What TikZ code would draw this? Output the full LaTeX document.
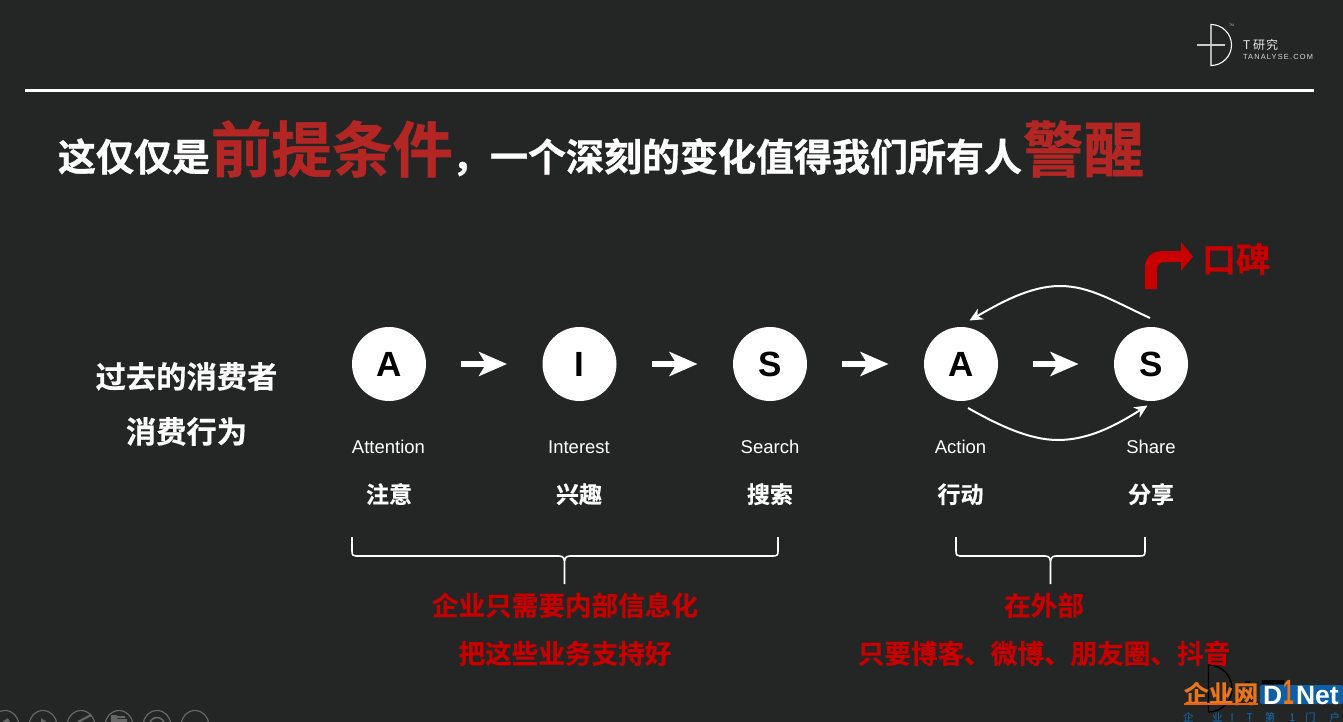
\documentclass[tikz,border=0pt]{standalone}
\usepackage{fontspec}
\setmainfont{Liberation Sans}
\newfontfamily\cjk{Noto Sans CJK SC}[BoldFont={Noto Sans CJK SC Bold}]
\newfontfamily\cjkheavy{Noto Sans CJK SC Bold}[FakeBold=0.9]
\newfontfamily\cjkmid{Noto Sans CJK SC Bold}[FakeBold=0.4]
\newfontfamily\spaced{Liberation Sans}[LetterSpace=16]
\usetikzlibrary{arrows.meta}
\definecolor{bg}{HTML}{242626}
\definecolor{titlered}{HTML}{B32624}
\definecolor{pure}{HTML}{C90000}
\definecolor{icon}{HTML}{666666}
\definecolor{dblue}{HTML}{0F5FA8}
\definecolor{dtext}{HTML}{1270B8}
\definecolor{dorange}{HTML}{E8761A}
\newcommand{\fs}[1]{\fontsize{#1}{#1}\selectfont}
\tikzset{
  x=1pt,y=-1pt,
  every node/.style={inner sep=0pt,outer sep=0pt,text=white},
  stage/.style={circle,fill=white,minimum size=74pt,text=black,font=\fs{35}\bfseries},
  flow/.style={draw=white,line width=6.5pt,-{Stealth[length=28pt,width=24pt,inset=7pt]},shorten <=35pt,shorten >=35.5pt},
  loopline/.style={draw=white,line width=2pt,-{Stealth[length=13pt,width=12pt,inset=4pt]}},
  bracket/.style={draw=white,line width=1.6pt},
  en/.style={font=\fs{18.5},anchor=base},
  cn/.style={font=\cjkmid\fs{23},anchor=base},
  lead/.style={font=\cjkmid\fs{30.3},anchor=base},
  note/.style={font=\cjkmid\fs{26.6},anchor=base,text=pure},
  ttl/.style={font=\cjkheavy\fs{38},anchor=base west},
  ttlbig/.style={font=\cjkheavy\fs{60.5},anchor=base west,text=titlered},
  tool/.style={draw=icon,line width=1.2pt},
}
\begin{document}
\begin{tikzpicture}
\fill[bg] (0,0) rectangle (1343,722);
\useasboundingbox (0,0) rectangle (1343,722);
\clip (0,0) rectangle (1343,722);
% logo
\draw[white,line width=1.1pt] (1211,24.5) arc[start angle=-90,end angle=90,radius=20.5] -- cycle;
\draw[white!80!black,line width=1.2pt] (1197,45) -- (1225,45);
\node[font=\fs{3.5},anchor=base west,text=white!70!black] (tm) at (1229,27) {TM};
\node[font=\cjk\fs{12},anchor=base west,text=white!90!black] (lg1) at (1243,50) {T\hspace{3pt}研\hspace{1pt}究};
\node[font=\spaced\fs{7.4},anchor=base west,text=white!85!black] (lg2) at (1243,60) {TANALYSE.COM};
\draw[white,line width=3pt] (25,91) -- (1314,91);
% title
\node[ttl] (t1) at (58,171) {这仅仅是};
\node[ttlbig] (t2) at (211,172) {前提条件};
\node[ttl] (t3) at (452,171) {，一个深刻的变化值得我们所有人};
\node[ttlbig] (t4) at (1023,172) {警醒};
% lead
\node[lead] (l1) at (186.5,388) {过去的消费者};
\node[lead] (l2) at (186.5,443) {消费行为};
% stages
\node[stage] (a1) at (389,364) {A};
\node[stage] (i1) at (579.5,364) {I};
\node[stage] (s1) at (770,364) {S};
\node[stage] (a2) at (961,364) {A};
\node[stage] (s2) at (1151,364) {S};
\draw[flow] (a1) -- (i1);
\draw[flow] (i1) -- (s1);
\draw[flow] (s1) -- (a2);
\draw[flow] (a2) -- (s2);
\coordinate (tops) at (1150,318);
\coordinate (tope) at (969.5,320.5);
\coordinate (bots) at (968,408);
\coordinate (bote) at (1147.5,405.5);
\draw[loopline] (tops) .. controls (1115,302) and (1090,286) .. (1060,286) .. controls (1030,286) and (1000,303) .. (tope);
\draw[loopline] (bots) .. controls (1000,426) and (1030,440) .. (1058,440) .. controls (1088,440) and (1115,426) .. (bote);
% labels
\node[en] (e1) at (388.5,453.5) {Attention};
\node[en] (e2) at (579,453.5) {Interest};
\node[en] (e3) at (770,453.5) {Search};
\node[en] (e4) at (960.5,453.5) {Action};
\node[en] (e5) at (1151,453.5) {Share};
\node[cn] (c1) at (389,503) {注意};
\node[cn] (c2) at (579,503) {兴趣};
\node[cn] (c3) at (770,503) {搜索};
\node[cn] (c4) at (960.5,503) {行动};
\node[cn] (c5) at (1151,503) {分享};
% brackets
\draw[bracket] (352,537) -- (352,551) .. controls (352,555) and (353,556) .. (356,556) -- (559,556) .. controls (563,556) and (564.5,558) .. (564.5,563) -- (564.5,584) -- (564.5,563) .. controls (564.5,558) and (566,556) .. (570,556) -- (773,556) .. controls (777,556) and (778,555) .. (778,551) -- (778,537);
\draw[bracket] (956,537) -- (956,551) .. controls (956,555) and (957,556) .. (960,556) -- (1045,556) .. controls (1049,556) and (1050.5,558) .. (1050.5,563) -- (1050.5,584) -- (1050.5,563) .. controls (1050.5,558) and (1052,556) .. (1056,556) -- (1140,556) .. controls (1144,556) and (1145,555) .. (1145,551) -- (1145,537);
% notes
\node[note] (n1) at (565,615.5) {企业只需要内部信息化};
\node[note] (n2) at (565,663.5) {把这些业务支持好};
\node[note] (n3) at (1044,615.5) {在外部};
\node[note] (n4) at (1044,663.5) {只要博客、微博、朋友圈、抖音};
% bent arrow
\fill[pure] (1145,289) -- (1145,268) .. controls (1145,257) and (1152,251) .. (1163,251) -- (1181,251) -- (1181,242) -- (1193,256.5) -- (1181,271) -- (1181,262) -- (1165,262) .. controls (1160,262) and (1157,265) .. (1157,270) -- (1157,289) -- cycle;
\node[font=\cjkmid\fs{34},anchor=base west,text=pure] (kb) at (1202,272) {口碑};
% toolbar
\foreach \cx in {5,43,81,119,157,195} \draw[tool] (\cx,724) circle[radius=13.5];
\fill[icon] (2,722) -- (8,718) -- (10,722) -- cycle;
\fill[icon] (41,718) -- (47,722) -- (41,722) -- cycle;
\draw[icon,line width=2.2pt] (78,722) -- (91,715);
\fill[icon] (111,715) rectangle (117,722) (117,716) rectangle (125,718) (116,719) rectangle (127,722);
\draw[icon,line width=1.6pt] (157,725) circle[radius=7.5];
% watermark
\draw[black,line width=1.3pt] (1208.5,665) arc[start angle=-90,end angle=90,radius=23.5] -- cycle;
\fill[black] (1245,681) rectangle (1250,684) (1262,680) rectangle (1284,684);
\fill[dblue,rounded corners=2pt] (1260,685) rectangle (1343,704);
\node[font=\cjkmid\fs{24.7},anchor=base west,text=dorange] (w1) at (1184,703) {企业网};
\fill[dorange!80!red] (1184,702.5) rectangle (1258,705);
\node[font=\bfseries\fs{26.5},anchor=base west] (w2) at (1263,704) {D};
\node[font=\bfseries\fs{35},anchor=base west,text=dorange,xscale=.55] (w3) at (1283,704) {1};
\node[font=\bfseries\fs{26.5},anchor=base west] (w4) at (1296,704) {Net};
\node[font=\cjk\fs{10.5},anchor=base west,text=dtext] (w5) at (1183,721) {企\hspace{18.5pt}业\hspace{8pt}I\hspace{13pt}T\hspace{12pt}第\hspace{14pt}1\hspace{10pt}门\hspace{14pt}户};
\end{tikzpicture}
\end{document}
